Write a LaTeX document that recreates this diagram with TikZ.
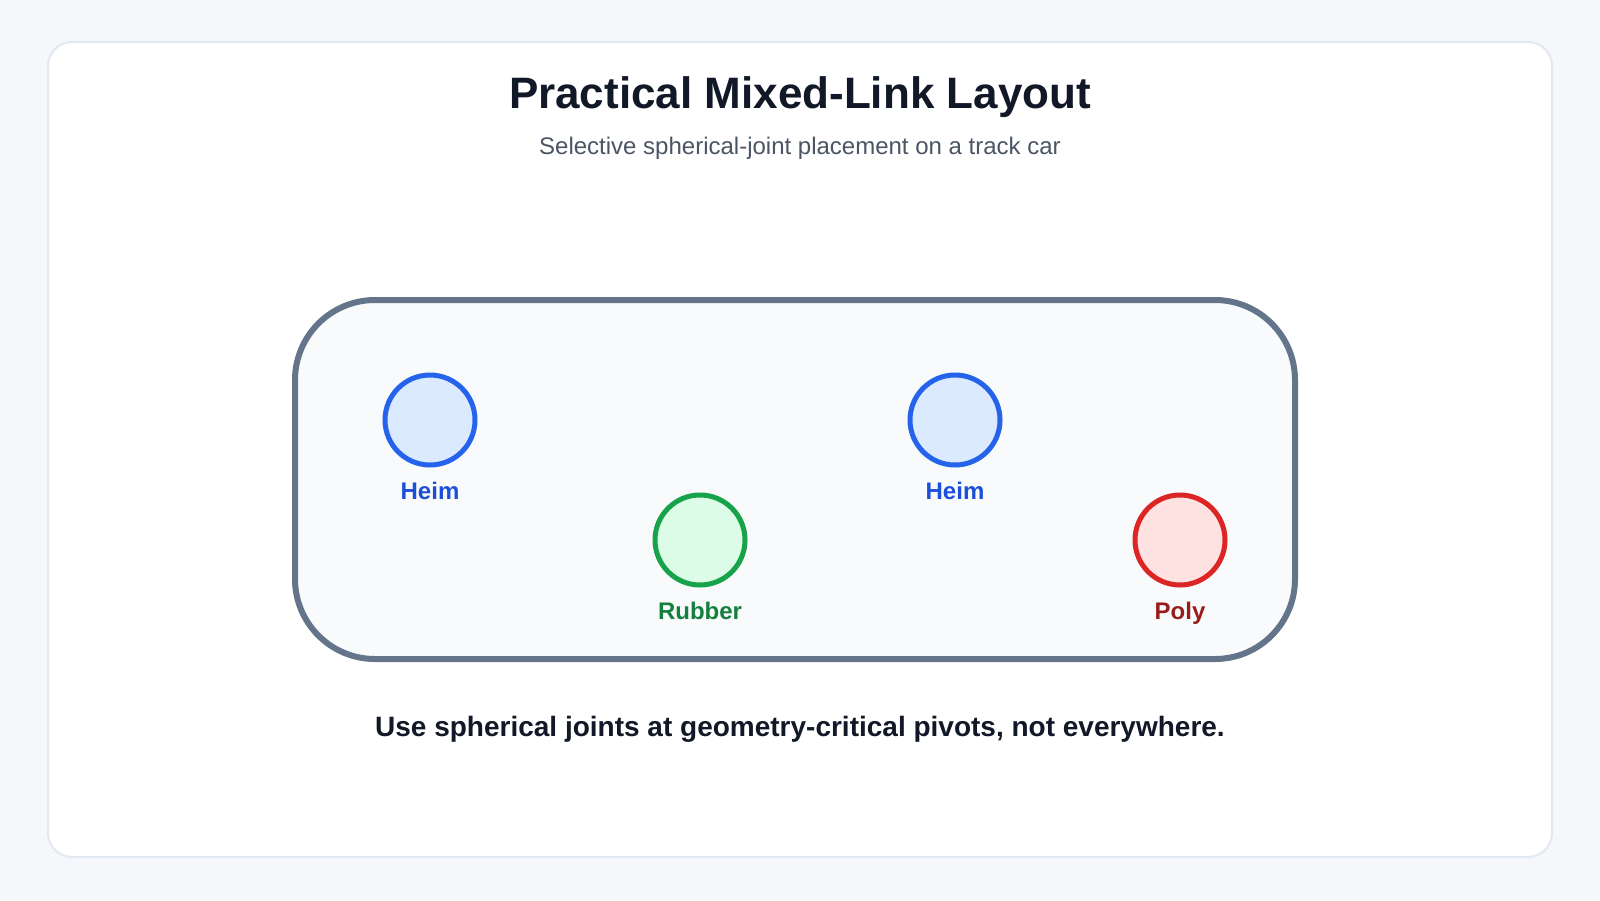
\documentclass[tikz,border=0pt]{standalone}
\usepackage{fontspec}
\setmainfont{Liberation Sans}

\definecolor{pagebg}{HTML}{F5F7FB}
\definecolor{cardline}{HTML}{E2E8F0}
\definecolor{titletext}{HTML}{111827}
\definecolor{subtext}{HTML}{4B5563}
\definecolor{chassisline}{HTML}{64748B}
\definecolor{chassisfill}{HTML}{F8FAFC}
\definecolor{heimline}{HTML}{2563EB}
\definecolor{heimfill}{HTML}{DBEAFE}
\definecolor{heimtext}{HTML}{1D4ED8}
\definecolor{rubberline}{HTML}{16A34A}
\definecolor{rubberfill}{HTML}{DCFCE7}
\definecolor{rubbertext}{HTML}{15803D}
\definecolor{polyline}{HTML}{DC2626}
\definecolor{polyfill}{HTML}{FEE2E2}
\definecolor{polytext}{HTML}{991B1B}

\tikzstyle{card}=[draw=cardline,fill=white,line width=2pt,rounded corners=24pt]
\tikzstyle{chassis}=[draw=chassisline,fill=chassisfill,line width=6pt,rounded corners=80pt]
\tikzstyle{joint}=[draw,circle,line width=5pt,minimum size=90pt,inner sep=0pt]
\tikzstyle{heim}=[joint,draw=heimline,fill=heimfill]
\tikzstyle{rubber}=[joint,draw=rubberline,fill=rubberfill]
\tikzstyle{poly}=[joint,draw=polyline,fill=polyfill]
\tikzstyle{lbl}=[font=\fontsize{24}{28}\selectfont\bfseries,inner sep=0pt,text height=17pt,text depth=5pt,label distance=15pt]

\begin{document}
\begin{tikzpicture}[x=1pt,y=-1pt]
  \useasboundingbox[fill=pagebg] (0,0) rectangle (1600,900);
  \draw[card] (48,42) rectangle (1552,857);

  \node[font=\fontsize{44}{52}\selectfont\bfseries,text=titletext] (title) at (800,97) {Practical Mixed-Link Layout};
  \node[font=\fontsize{24}{29}\selectfont,text=subtext] (subtitle) at (800,148.5) {Selective spherical-joint placement on a track car};

  \draw[chassis] (295,300) rectangle (1295,659);

  \node[heim,label={[lbl,text=heimtext]below:Heim}] (heimfront) at (430,420) {};
  \node[rubber,label={[lbl,text=rubbertext]below:Rubber}] (rubber) at (700,540) {};
  \node[heim,label={[lbl,text=heimtext]below:Heim}] (heimrear) at (955,420) {};
  \node[poly,label={[lbl,text=polytext]below:Poly}] (poly) at (1180,540) {};

  \node[font=\fontsize{28}{33}\selectfont\bfseries,text=titletext] (note) at (800,729) {Use spherical joints at geometry-critical pivots, not everywhere.};
\end{tikzpicture}
\end{document}
